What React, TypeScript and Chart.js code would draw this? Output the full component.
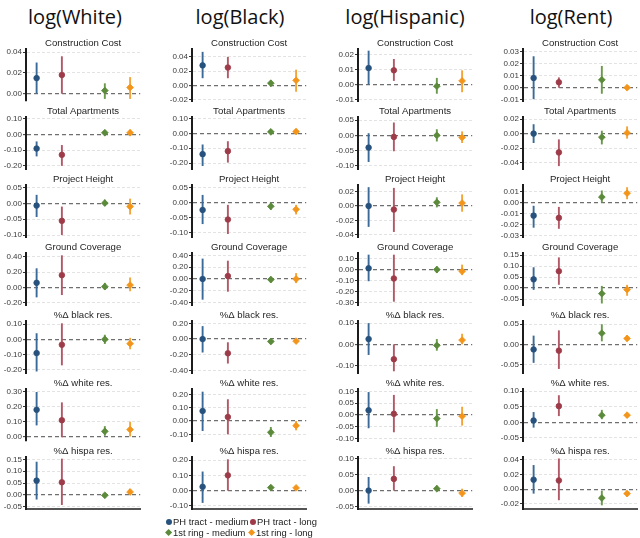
import React, { useEffect, useRef } from "react";
import { Chart, registerables } from "chart.js";
Chart.register(...registerables);

// ---------------- data ----------------
const columnTitles = ["log(White)", "log(Black)", "log(Hispanic)", "log(Rent)"];
const panelTitles = [
  "Construction Cost",
  "Total Apartments",
  "Project Height",
  "Ground Coverage",
  "%Δ black res.",
  "%Δ white res.",
  "%Δ hispa res.",
];
const seriesNames = ["PH tract - medium", "PH tract - long", "1st ring - medium", "1st ring - long"];
const seriesX = [1, 2, 3.7, 4.7];

// [row][series]
const whiteEst = [
  [0.015, 0.018, 0.003, 0.006],
  [-0.09, -0.13, 0.01, 0.01],
  [-0.007, -0.055, 0.001, -0.01],
  [0.06, 0.16, 0.01, 0.03],
  [-0.09, -0.035, 0.0, -0.028],
  [0.18, 0.11, 0.035, 0.047],
  [0.06, 0.053, -0.002, 0.012],
];
const whiteLo = [
  [0.0, 0.0, -0.005, -0.005],
  [-0.14, -0.2, -0.005, -0.01],
  [-0.043, -0.1, -0.008, -0.035],
  [-0.13, -0.1, -0.03, -0.05],
  [-0.21, -0.17, -0.03, -0.065],
  [0.075, -0.005, 0.005, 0.0],
  [-0.02, -0.043, -0.01, 0.0],
];
const whiteHi = [
  [0.03, 0.036, 0.01, 0.016],
  [-0.045, -0.068, 0.025, 0.03],
  [0.027, -0.01, 0.012, 0.015],
  [0.25, 0.42, 0.06, 0.13],
  [0.04, 0.105, 0.03, 0.01],
  [0.3, 0.23, 0.07, 0.1],
  [0.14, 0.153, 0.005, 0.025],
];
const whiteTicks = [
  [0, 0.02, 0.04],
  [-0.2, -0.1, 0, 0.1],
  [-0.1, -0.05, 0, 0.05],
  [-0.2, 0, 0.2, 0.4],
  [-0.2, -0.1, 0, 0.1],
  [0, 0.1, 0.2, 0.3],
  [-0.05, 0, 0.05, 0.1, 0.15],
];
const whiteLimits = [
  [-0.007, 0.043],
  [-0.22, 0.11],
  [-0.106, 0.058],
  [-0.23, 0.45],
  [-0.22, 0.12],
  [-0.03, 0.32],
  [-0.06, 0.16],
];

const blackEst = [
  [0.028, 0.025, 0.003, 0.007],
  [-0.14, -0.12, 0.01, 0.012],
  [-0.025, -0.057, -0.013, -0.023],
  [0.0, 0.05, -0.01, 0.0],
  [0.0, -0.18, -0.03, -0.025],
  [0.075, 0.03, -0.085, -0.035],
  [0.025, 0.1, 0.02, 0.018],
];
const blackLo = [
  [0.01, 0.01, -0.002, -0.009],
  [-0.22, -0.197, -0.005, -0.005],
  [-0.072, -0.105, -0.025, -0.04],
  [-0.35, -0.215, -0.06, -0.07],
  [-0.17, -0.31, -0.06, -0.05],
  [-0.075, -0.1, -0.12, -0.07],
  [-0.08, 0.0, 0.01, 0.005],
];
const blackHi = [
  [0.047, 0.04, 0.007, 0.022],
  [-0.075, -0.053, 0.025, 0.03],
  [0.025, -0.008, 0.0, -0.008],
  [0.345, 0.31, 0.04, 0.1],
  [0.165, -0.04, 0.0, 0.0],
  [0.22, 0.163, -0.045, 0.0],
  [0.125, 0.205, 0.035, 0.03],
];
const blackTicks = [
  [-0.02, 0, 0.02, 0.04],
  [-0.2, -0.1, 0, 0.1],
  [-0.1, -0.05, 0, 0.05],
  [-0.4, -0.2, 0, 0.2, 0.4],
  [-0.4, -0.2, 0, 0.2],
  [-0.1, 0, 0.1, 0.2],
  [-0.1, 0, 0.1, 0.2],
];
const blackLimits = [
  [-0.022, 0.051],
  [-0.24, 0.11],
  [-0.115, 0.058],
  [-0.44, 0.44],
  [-0.43, 0.23],
  [-0.15, 0.24],
  [-0.12, 0.22],
];

const hispEst = [
  [0.011, 0.0095, -0.001, 0.0025],
  [-0.04, -0.005, 0.0, -0.007],
  [0.0, -0.005, 0.005, 0.004],
  [0.012, -0.08, 0.0, -0.015],
  [0.025, -0.07, -0.005, 0.02],
  [0.02, 0.005, -0.015, -0.005],
  [0.0, 0.037, 0.006, -0.008],
];
const hispLo = [
  [0.0, 0.0025, -0.006, -0.005],
  [-0.087, -0.052, -0.02, -0.025],
  [-0.029, -0.036, -0.002, -0.008],
  [-0.105, -0.29, -0.03, -0.05],
  [-0.05, -0.127, -0.03, 0.0],
  [-0.056, -0.073, -0.05, -0.045],
  [-0.041, 0.0, -0.001, -0.02],
];
const hispHi = [
  [0.0225, 0.017, 0.0045, 0.0095],
  [0.007, 0.042, 0.02, 0.013],
  [0.026, 0.025, 0.012, 0.016],
  [0.135, 0.135, 0.03, 0.045],
  [0.1, 0.0, 0.025, 0.05],
  [0.097, 0.085, 0.025, 0.035],
  [0.043, 0.077, 0.016, 0.006],
];
const hispTicks = [
  [-0.01, 0, 0.01, 0.02],
  [-0.1, -0.05, 0, 0.05],
  [-0.04, -0.02, 0, 0.02],
  [-0.3, -0.2, -0.1, 0, 0.1],
  [-0.1, 0, 0.1],
  [-0.1, -0.05, 0, 0.05, 0.1],
  [-0.05, 0, 0.05, 0.1],
];
const hispLimits = [
  [-0.0108, 0.0236],
  [-0.11, 0.06],
  [-0.043, 0.029],
  [-0.32, 0.15],
  [-0.135, 0.11],
  [-0.11, 0.11],
  [-0.058, 0.106],
];

const rentEst = [
  [0.008, 0.0045, 0.0065, 0.0],
  [0.0, -0.026, -0.005, 0.001],
  [-0.012, -0.014, 0.005, 0.0085],
  [0.04, 0.077, -0.025, -0.007],
  [-0.012, -0.015, 0.028, 0.015],
  [0.006, 0.052, 0.023, 0.023],
  [0.013, 0.012, -0.012, -0.006],
];
const rentLo = [
  [-0.0095, 0.0, -0.005, -0.002],
  [-0.013, -0.045, -0.015, -0.007],
  [-0.023, -0.024, 0.0, 0.003],
  [-0.008, 0.015, -0.07, -0.035],
  [-0.045, -0.06, 0.008, 0.008],
  [-0.017, 0.02, 0.01, 0.015],
  [-0.006, -0.015, -0.022, -0.01],
];
const rentHi = [
  [0.026, 0.0085, 0.018, 0.002],
  [0.013, -0.008, 0.004, 0.01],
  [-0.003, -0.004, 0.011, 0.014],
  [0.095, 0.14, 0.01, 0.015],
  [0.022, 0.035, 0.05, 0.023],
  [0.033, 0.087, 0.04, 0.03],
  [0.033, 0.042, -0.002, -0.002],
];
const rentTicks = [
  [-0.01, 0, 0.01, 0.02, 0.03],
  [-0.04, -0.02, 0, 0.02],
  [-0.03, -0.02, -0.01, 0, 0.01],
  [-0.05, 0, 0.05, 0.1, 0.15],
  [-0.05, 0, 0.05],
  [-0.05, 0, 0.05, 0.1],
  [-0.02, 0, 0.02, 0.04],
];
const rentLimits = [
  [-0.011, 0.032],
  [-0.049, 0.023],
  [-0.0315, 0.016],
  [-0.077, 0.16],
  [-0.07, 0.058],
  [-0.06, 0.107],
  [-0.027, 0.044],
];

// ---------------- styling / layout ----------------
const pointColors = ["#27527e", "#9e3b49", "#5a8a3a", "#f2951a"];
const barColors = ["#3c6a98", "#b25866", "#6a9a4b", "#f5a43a"];
const pointShapes = ["circle", "circle", "rectRot", "rectRot"];

const columnData = [
  { est: whiteEst, lo: whiteLo, hi: whiteHi, ticks: whiteTicks, limits: whiteLimits },
  { est: blackEst, lo: blackLo, hi: blackHi, ticks: blackTicks, limits: blackLimits },
  { est: hispEst, lo: hispLo, hi: hispHi, ticks: hispTicks, limits: hispLimits },
  { est: rentEst, lo: rentLo, hi: rentHi, ticks: rentTicks, limits: rentLimits },
];

const colLeft = [0, 160, 320, 480];
const axisX = [26, 192, 358, 523];
const colTitleCenter = [75, 240, 405, 571];
const plotW = 119;
const plotH = 52;
const rowPitch = 68;
const firstPlotTop = 49;
const padTop = 15;
const padBottom = 6;

const isZero = (c: any) => c.tick && Math.abs(c.tick.value) < 1e-12;

const errorBarsPlugin = {
  id: "errorBars",
  beforeDatasetsDraw(chart: any) {
    const { ctx } = chart;
    const xs = chart.scales.x;
    const ys = chart.scales.y;
    chart.data.datasets.forEach((ds: any) => {
      const px = xs.getPixelForValue(ds.data[0].x);
      ctx.save();
      ctx.strokeStyle = ds.barColor;
      ctx.lineWidth = 1.9;
      ctx.lineCap = "butt";
      ctx.beginPath();
      ctx.moveTo(px, ys.getPixelForValue(ds.lo));
      ctx.lineTo(px, ys.getPixelForValue(ds.hi));
      ctx.stroke();
      ctx.restore();
    });
  },
};

const panelTitlePlugin = {
  id: "panelTitle",
  afterDraw(chart: any, _args: any, opts: any) {
    const { ctx, chartArea } = chart;
    ctx.save();
    ctx.font = "9.6px 'Liberation Sans', Arial, sans-serif";
    ctx.fillStyle = "#1f1f1f";
    ctx.textAlign = "center";
    ctx.textBaseline = "middle";
    ctx.fillText(opts.text, (chartArea.left + chartArea.right) / 2, chartArea.top - 5.5);
    ctx.restore();
  },
};

function Panel({ col, row }: { col: number; row: number }) {
  const ref = useRef<HTMLCanvasElement | null>(null);
  const width = axisX[col] - colLeft[col] + plotW;
  const height = padTop + plotH + padBottom;
  const top = firstPlotTop + rowPitch * row - padTop;
  const isLast = row === panelTitles.length - 1;

  useEffect(() => {
    const d = columnData[col];
    const tickVals = d.ticks[row];
    const [ymin, ymax] = d.limits[row];
    const datasets = seriesNames.map((name, s) => ({
      label: name,
      data: [{ x: seriesX[s], y: d.est[row][s] }],
      lo: d.lo[row][s],
      hi: d.hi[row][s],
      barColor: barColors[s],
      pointStyle: pointShapes[s],
      pointRadius: s < 2 ? 2.8 : 3.4,
      pointBackgroundColor: pointColors[s],
      pointBorderColor: pointColors[s],
      pointBorderWidth: 0.8,
    }));
    const yAxisWidth = axisX[col] - colLeft[col];
    const chart = new Chart(ref.current as HTMLCanvasElement, {
      type: "scatter",
      data: { datasets } as any,
      plugins: [errorBarsPlugin, panelTitlePlugin],
      options: {
        animation: false,
        responsive: false,
        events: [],
        layout: { padding: { top: padTop, bottom: padBottom, left: 0, right: 0 } },
        plugins: {
          legend: { display: false },
          tooltip: { enabled: false },
          panelTitle: { text: panelTitles[row] },
        } as any,
        scales: {
          x: {
            type: "linear",
            min: 0.58,
            max: 5.1,
            display: isLast,
            grid: { display: false, drawTicks: false },
            ticks: { display: false },
            border: { display: true, color: "#555555", width: 2 },
          },
          y: {
            type: "linear",
            min: ymin,
            max: ymax,
            afterBuildTicks: (scale: any) => {
              scale.ticks = tickVals.map((v) => ({ value: v }));
            },
            afterFit: (scale: any) => {
              scale.width = yAxisWidth;
            },
            ticks: {
              callback: (v: any) => Number(v).toFixed(2),
              font: { size: 8, family: "'Liberation Sans', Arial, sans-serif" },
              color: "#3a3a3a",
              padding: 1,
              autoSkip: false,
            },
            grid: {
              color: (c: any) => (isZero(c) ? "#6f6f6f" : "#dcdcdc"),
              lineWidth: (c: any) => (isZero(c) ? 1.3 : 0.8),
              drawTicks: true,
              tickLength: 3,
              tickColor: "#333333",
              tickWidth: 1,
              tickBorderDash: [],
            },
            border: {
              display: true,
              color: "#1c1c1c",
              width: 2,
              dash: (c: any) => (isZero(c) ? [4, 3] : [3, 2]),
            },
          },
        },
      } as any,
    });
    return () => chart.destroy();
  }, [col, row]);

  return (
    <canvas
      ref={ref}
      width={width}
      height={height}
      style={{ position: "absolute", left: colLeft[col], top, width, height }}
    />
  );
}

function LegendSymbol({ idx, cx, cy }: { idx: number; cx: number; cy: number }) {
  const isCircle = idx < 2;
  const size = isCircle ? 6.5 : 5.2;
  return (
    <div
      style={{
        position: "absolute",
        left: cx - size / 2,
        top: cy - size / 2,
        width: size,
        height: size,
        background: pointColors[idx],
        borderRadius: isCircle ? "50%" : 0,
        transform: isCircle ? undefined : "rotate(45deg)",
      }}
    />
  );
}

const legendLayout = [
  { sx: 169, tx: 173, cy: 522 },
  { sx: 253, tx: 257, cy: 522 },
  { sx: 169, tx: 173, cy: 533 },
  { sx: 252, tx: 256, cy: 533 },
];

export default function App() {
  const panels: React.ReactNode[] = [];
  for (let c = 0; c < columnTitles.length; c++) {
    for (let r = 0; r < panelTitles.length; r++) {
      panels.push(<Panel key={`${c}-${r}`} col={c} row={r} />);
    }
  }
  return (
    <div
      style={{
        position: "absolute",
        left: 0,
        top: 0,
        width: 640,
        height: 538,
        overflow: "hidden",
        background: "#ffffff",
      }}
    >
      {columnTitles.map((t, i) => (
        <div
          key={t}
          style={{
            position: "absolute",
            left: colTitleCenter[i] - 100,
            width: 200,
            top: 4,
            textAlign: "center",
            fontFamily: "'Open Sans', 'Noto Sans', sans-serif",
            fontSize: 20,
            lineHeight: "26px",
            color: "#111111",
          }}
        >
          {t}
        </div>
      ))}
      {panels}
      {seriesNames.map((n, i) => (
        <React.Fragment key={n}>
          <LegendSymbol idx={i} cx={legendLayout[i].sx} cy={legendLayout[i].cy} />
          <div
            style={{
              position: "absolute",
              left: legendLayout[i].tx,
              top: legendLayout[i].cy - 6,
              lineHeight: "12px",
              fontSize: 9.4,
              fontFamily: "'Liberation Sans', Arial, sans-serif",
              color: "#1a1a1a",
              whiteSpace: "nowrap",
            }}
          >
            {n}
          </div>
        </React.Fragment>
      ))}
    </div>
  );
}
